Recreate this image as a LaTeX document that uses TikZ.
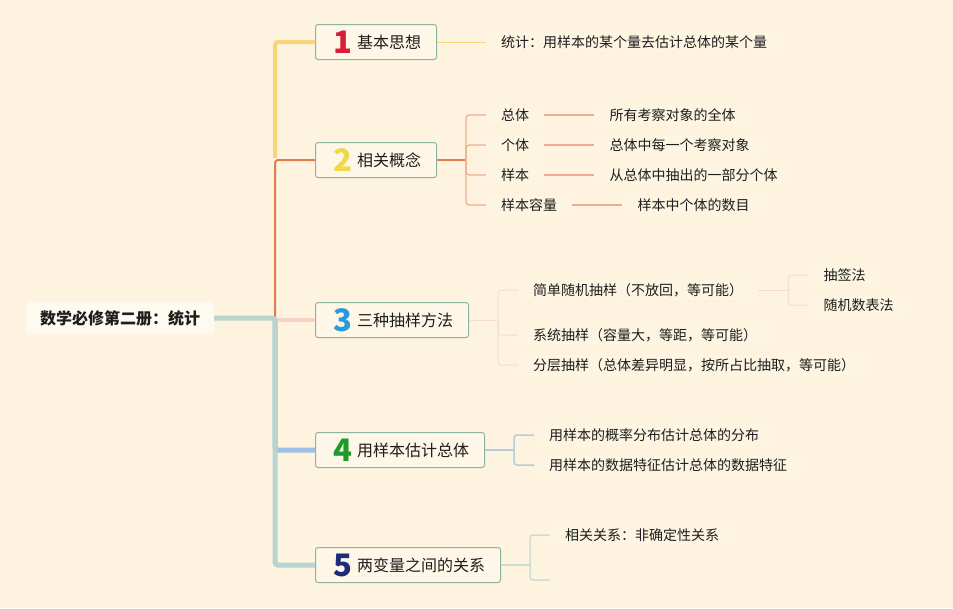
\documentclass[tikz,border=0pt]{standalone}
\usepackage{fontspec}
\setmainfont{Noto Sans CJK SC}
\usetikzlibrary{positioning}
\definecolor{bg}{HTML}{FDF3DE}
\definecolor{boxfill}{HTML}{FEF7E8}
\definecolor{boxline}{HTML}{8DB59F}
\definecolor{rootfill}{HTML}{FFFAEF}
\definecolor{ink}{HTML}{1E1E1E}
\definecolor{cyel}{HTML}{F9D57A}
\definecolor{corg}{HTML}{E07E50}
\definecolor{corgl}{HTML}{F0AC90}
\definecolor{cpnk}{HTML}{F8D2C6}
\definecolor{cpnkl}{HTML}{F6DDCF}
\definecolor{cblu}{HTML}{9DBFE6}
\definecolor{cblul}{HTML}{B6CEDC}
\definecolor{cgry}{HTML}{B8D4CF}
\definecolor{cgryl}{HTML}{CCDFD7}
\definecolor{dred}{HTML}{D81E34}
\definecolor{dyel}{HTML}{F0D848}
\definecolor{dblu}{HTML}{2B9ADA}
\definecolor{dgrn}{HTML}{1E9A2A}
\definecolor{dnav}{HTML}{1F2B78}
\definecolor{lblfill}{HTML}{FDF4E1}
\begin{document}
\begin{tikzpicture}[x=1pt,y=-1pt,
  mbox/.style={draw=boxline,fill=boxfill,rounded corners=2.5pt,line width=1pt,minimum height=35pt,anchor=west,inner sep=0pt},
  dig/.style={font=\fontsize{31pt}{31pt}\selectfont\bfseries,inner sep=0pt},
  head/.style={font=\fontsize{16pt}{18pt}\selectfont,text=ink,inner sep=0pt,anchor=west},
  lbl/.style={font=\fontsize{14pt}{16pt}\selectfont,text=ink,inner xsep=15pt,inner ysep=3pt,anchor=west,fill=lblfill},
  desc/.style={font=\fontsize{14pt}{16pt}\selectfont,text=ink,inner xsep=15pt,inner ysep=3pt,fill=lblfill},
  rc/.style={rounded corners=3pt}]
\fill[bg] (0,0) rectangle (953,608);
\useasboundingbox (0,0) rectangle (953,608);

% root
\node[font=\fontsize{16pt}{18pt}\selectfont\bfseries,text=ink,fill=rootfill,rounded corners=4pt,minimum width=188pt,minimum height=32pt,inner sep=0pt] (root) at (120,318) {数学必修第二册：统计};

% main boxes
\node[mbox,minimum width=121pt] (b1) at (315,42) {};
\node[mbox,minimum width=121pt] (b2) at (315,160) {};
\node[mbox,minimum width=153pt] (b3) at (315,320) {};
\node[mbox,minimum width=169pt] (b4) at (315,450) {};
\node[mbox,minimum width=185pt] (b5) at (315,565) {};

\node[dig,text=dred] (d1) at (342.5,42) {1};
\node[dig,text=dyel] (d2) at (342.5,160) {2};
\node[dig,text=dblu] (d3) at (342.5,320) {3};
\node[dig,text=dgrn] (d4) at (342.5,450) {4};
\node[dig,text=dnav] (d5) at (342.5,565) {5};

\node[head] (t1) at (357,42) {基本思想};
\node[head] (t2) at (357,160) {相关概念};
\node[head] (t3) at (357,320) {三种抽样方法};
\node[head] (t4) at (357,450) {用样本估计总体};
\node[head] (t5) at (357,565) {两变量之间的关系};

% trunk connectors
\coordinate (j) at (275,318);
\coordinate (j2) at (275,158);
\draw[cyel,line width=4pt,rc] (j2) |- (b1.west);
\draw[corg,line width=2pt,rc] (j) |- (b2.west);
\draw[cblu,line width=5pt,rc] (j) |- (b4.west);
\draw[cpnk,line width=4.5pt] (j |- b3.west) -- (b3.west);
\draw[cgry,line width=5pt,rc] (root.east) -- (j) |- (b5.west);

% branch 1
\node[lbl] (c11) at (486,42) {统计：用样本的某个量去估计总体的某个量};
\draw[cyel,line width=1pt] (b1.east) -- (c11.west);

% branch 2
\coordinate (k2) at (466,160);
\node[lbl] (c21) at (486,115) {总体};
\node[lbl] (c22) at (486,145) {个体};
\node[lbl] (c23) at (486,175) {样本};
\node[lbl] (c24) at (486,205) {样本容量};
\node[desc,right=50pt of c21] (e21) {所有考察对象的全体};
\node[desc,right=50pt of c22] (e22) {总体中每一个考察对象};
\node[desc,right=50pt of c23] (e23) {从总体中抽出的一部分个体};
\node[desc,right=50pt of c24] (e24) {样本中个体的数目};
\draw[corg,line width=2pt] (b2.east) -- (k2);
\foreach \c in {c21,c22,c23,c24}{\draw[corgl,line width=1.2pt,rc] (k2) |- (\c.west);}
\foreach \a/\b in {c21/e21,c22/e22,c23/e23,c24/e24}{\draw[corgl,line width=1.2pt] (\a.east) -- (\b.west);}

% branch 3
\coordinate (k3) at (498,320);
\node[lbl] (c31) at (518,290) {简单随机抽样（不放回，等可能）};
\node[lbl] (c32) at (518,335) {系统抽样（容量大，等距，等可能）};
\node[lbl] (c33) at (518,365) {分层抽样（总体差异明显，按所占比抽取，等可能）};
\draw[cpnkl,line width=1pt] (b3.east) -- (k3);
\foreach \c in {c31,c32,c33}{\draw[cpnkl,line width=1pt,rc] (k3) |- (\c.west);}
\coordinate (k31) at ([xshift=30pt]c31.east);
\node[lbl] (c311) at ([xshift=50pt,yshift=15pt]c31.east) {抽签法};
\node[lbl] (c312) at ([xshift=50pt,yshift=-15pt]c31.east) {随机数表法};
\draw[cpnkl,line width=1pt] (c31.east) -- (k31);
\foreach \c in {c311,c312}{\draw[cpnkl,line width=1pt,rc] (k31) |- (\c.west);}

% branch 4
\coordinate (k4) at (514,450);
\node[lbl] (c41) at (534,435) {用样本的概率分布估计总体的分布};
\node[lbl] (c42) at (534,465) {用样本的数据特征估计总体的数据特征};
\draw[cblul,line width=1.5pt] (b4.east) -- (k4);
\foreach \c in {c41,c42}{\draw[cblul,line width=1.5pt,rc] (k4) |- (\c.west);}

% branch 5
\coordinate (k5) at (530,565);
\node[lbl] (c51) at (550,535) {相关关系：非确定性关系};
\coordinate (c52) at (550,580);
\draw[cgryl,line width=1.5pt] (b5.east) -- (k5);
\draw[cgryl,line width=1.5pt,rc] (k5) |- (c51.west);
\draw[cgryl,line width=1.5pt,rc] (k5) |- (c52);
\end{tikzpicture}
\end{document}
